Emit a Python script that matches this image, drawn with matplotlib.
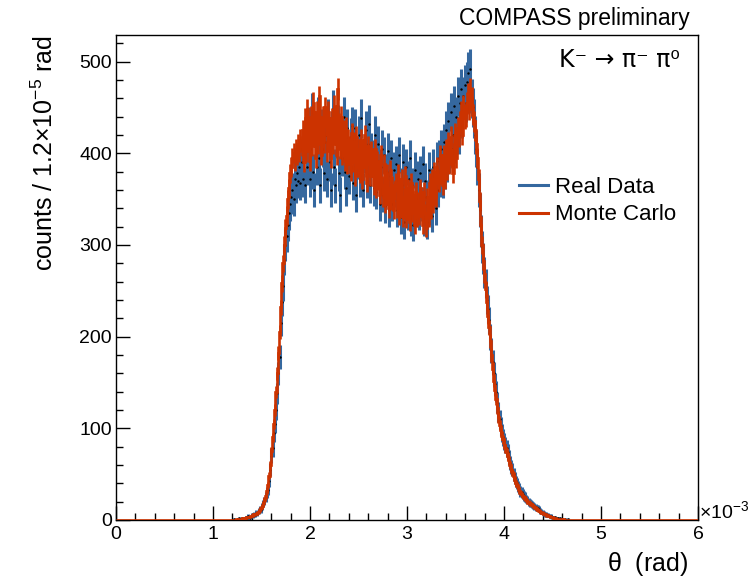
import numpy as np
import matplotlib
matplotlib.use('Agg')
import matplotlib.pyplot as plt
from matplotlib.lines import Line2D

plt.rcParams['font.family'] = ['Liberation Sans', 'DejaVu Sans']
plt.rcParams['mathtext.fontset'] = 'custom'
plt.rcParams['mathtext.rm'] = 'Liberation Sans'
plt.rcParams['mathtext.it'] = 'Liberation Sans'

# histogram: 500 bins of 1.2e-5 rad from 0 to 6e-3, only bins 100..399 are non-empty
nbins = 500
first_bin = 100

real_data = [
    0, 1, 0, 0, 1, 2, 1, 0, 2, 1, 2, 3, 2, 4, 3, 2, 5, 4, 6, 5,
    8, 7, 10, 12, 11, 15, 18, 21, 25, 30, 33, 42, 55, 70, 78, 95, 105, 120, 138, 160,
    178, 215, 238, 255, 284, 300, 310, 322, 335, 345, 352, 360, 350, 372, 365, 378, 370, 385, 368, 390,
    372, 410, 365, 418, 385, 430, 372, 405, 445, 380, 360, 425, 385, 440, 395, 365, 428, 405, 378, 412,
    420, 372, 438, 390, 360, 425, 448, 385, 365, 415, 432, 378, 355, 420, 395, 440, 380, 362, 428, 398,
    375, 418, 430, 368, 400, 428, 355, 392, 420, 372, 438, 395, 360, 398, 425, 370, 410, 432, 365, 402,
    395, 362, 420, 358, 392, 410, 345, 385, 405, 355, 398, 342, 380, 402, 338, 375, 395, 345, 382, 360,
    388, 338, 372, 398, 330, 365, 390, 325, 360, 385, 335, 372, 395, 328, 365, 322, 382, 350, 338, 372,
    335, 378, 345, 388, 328, 370, 352, 325, 382, 340, 365, 332, 385, 358, 340, 392, 360, 395, 372, 405,
    370, 412, 380, 425, 388, 435, 398, 445, 405, 420, 452, 410, 440, 462, 420, 455, 470, 438, 462, 475,
    455, 478, 488, 465, 492, 460, 450, 438, 420, 405, 385, 360, 338, 315, 298, 285, 270, 258, 240, 230,
    218, 200, 185, 172, 160, 148, 140, 128, 118, 110, 102, 95, 90, 86, 82, 78, 74, 68, 62, 58,
    55, 50, 46, 42, 40, 36, 34, 31, 30, 28, 26, 25, 23, 22, 20, 19, 18, 17, 16, 15,
    14, 13, 13, 12, 10, 9, 8, 7, 6, 6, 5, 5, 4, 4, 3, 3, 2, 3, 2, 2,
    1, 2, 1, 1, 0, 1, 0, 0, 1, 0, 0, 0, 0, 0, 0, 0, 0, 0, 0, 0,
]

monte_carlo = [
    0, 0, 0, 1, 0, 1, 1, 1, 2, 1, 2, 2, 3, 3, 3, 4, 4, 5, 6, 6,
    7, 8, 9, 11, 13, 15, 18, 22, 26, 32, 38, 48, 60, 75, 90, 105, 120, 140, 160, 182,
    205, 232, 258, 280, 300, 318, 332, 350, 362, 378, 385, 395, 400, 392, 405, 398, 410, 402, 415, 408,
    425, 390, 438, 402, 448, 415, 392, 440, 408, 455, 420, 395, 445, 410, 462, 425, 398, 440, 412, 450,
    430, 402, 445, 418, 395, 438, 410, 452, 425, 398, 470, 432, 405, 440, 398, 425, 392, 428, 388, 415,
    408, 380, 422, 390, 412, 375, 418, 385, 405, 378, 415, 372, 395, 420, 385, 368, 408, 388, 375, 402,
    395, 365, 405, 362, 392, 370, 355, 398, 365, 352, 388, 345, 378, 362, 340, 382, 348, 365, 338, 360,
    368, 340, 378, 332, 360, 372, 330, 352, 375, 328, 362, 340, 325, 368, 335, 355, 322, 358, 330, 348,
    332, 362, 340, 322, 358, 335, 318, 352, 330, 368, 338, 372, 345, 380, 352, 385, 372, 368, 398, 378,
    365, 398, 372, 405, 382, 412, 388, 418, 395, 378, 410, 422, 395, 428, 418, 435, 445, 420, 452, 438,
    440, 455, 465, 448, 470, 460, 442, 435, 425, 410, 395, 372, 348, 322, 300, 282, 268, 252, 238, 222,
    210, 195, 180, 165, 152, 142, 132, 122, 112, 104, 98, 92, 88, 82, 78, 74, 70, 65, 60, 55,
    52, 48, 44, 40, 38, 35, 32, 30, 28, 26, 25, 23, 22, 20, 19, 18, 17, 16, 15, 14,
    13, 12, 11, 10, 9, 8, 8, 7, 6, 5, 5, 4, 4, 3, 3, 2, 2, 2, 1, 1,
    1, 1, 1, 0, 1, 0, 0, 0, 0, 0, 0, 0, 0, 0, 0, 0, 0, 0, 0, 0,
]

blue = '#35689f'
red = '#cc3300'

edges = np.linspace(0, 6e-3, nbins + 1)
centers = 0.5 * (edges[:-1] + edges[1:])
data = np.zeros(nbins)
mc = np.zeros(nbins)
data[first_bin:first_bin + len(real_data)] = real_data
mc[first_bin:first_bin + len(monte_carlo)] = monte_carlo

fig = plt.figure(figsize=(7.5, 5.77), dpi=100)
ax = fig.add_axes([116/750, 1 - 520/577, 582/750, 485/577])

# real data: error bars + tiny black markers
nz = data > 0
ax.errorbar(centers[nz], data[nz], yerr=np.sqrt(data[nz]), fmt='none',
            ecolor=blue, elinewidth=2.2, capsize=0, zorder=2)
ax.plot(centers[nz], data[nz], ls='none', marker='.', ms=1.5, color='k', zorder=2.5)

# monte carlo: step histogram with error bars
ax.stairs(mc, edges, color=red, lw=1.9, zorder=3)
nzm = mc > 0
ax.errorbar(centers[nzm], mc[nzm], yerr=0.55 * np.sqrt(mc[nzm]), fmt='none',
            ecolor=red, elinewidth=1.9, capsize=0, zorder=3)

ax.set_xlim(0, 6e-3)
ax.set_ylim(0, 529)
ax.set_xticks(np.arange(0, 6.01e-3, 1e-3))
ax.set_xticklabels(['0', '1', '2', '3', '4', '5', '6'])
ax.set_xticks(np.arange(0, 6.01e-3, 0.2e-3), minor=True)
ax.set_yticks(np.arange(0, 501, 100))
ax.set_yticks(np.arange(0, 529, 20), minor=True)
ax.tick_params(which='both', direction='in', top=False, right=False, labelsize=14)
ax.tick_params(which='major', length=10, width=1)
ax.tick_params(which='minor', length=5, width=1)
ax.tick_params(axis='x', pad=4)
ax.tick_params(axis='y', pad=3)
for s in ax.spines.values():
    s.set_linewidth(1)

fig.text(699/750, 1 - 511/577, '\u00d710$^{-3}$', fontsize=14, ha='left', va='center')
fig.text(688/750, 1 - 564/577, r'$\theta$  (rad)', fontsize=18, ha='right', va='center')
fig.text(45/750, 1 - 35/577, 'counts / 1.2\u00d710$^{-5}$ rad', fontsize=18,
         rotation=90, ha='center', va='top')
fig.text(690/750, 1 - 18/577, 'COMPASS preliminary', fontsize=16.5, ha='right', va='center')
fig.text(680/750, 1 - 60/577, 'K\u207b \u2192 \u03c0\u207b \u03c0\u2070', fontsize=17,
         family='DejaVu Sans', ha='right', va='center')

handles = [Line2D([], [], color=blue, lw=2.2), Line2D([], [], color=red, lw=2.2)]
fig.legend(handles, ['Real Data', 'Monte Carlo'], loc='center left',
           bbox_to_anchor=(508/750, 1 - 201/577), frameon=False, fontsize=16,
           handlelength=1.3, handletextpad=0.3, labelspacing=0.3, borderpad=0)

fig.savefig('out.png', dpi=100)
